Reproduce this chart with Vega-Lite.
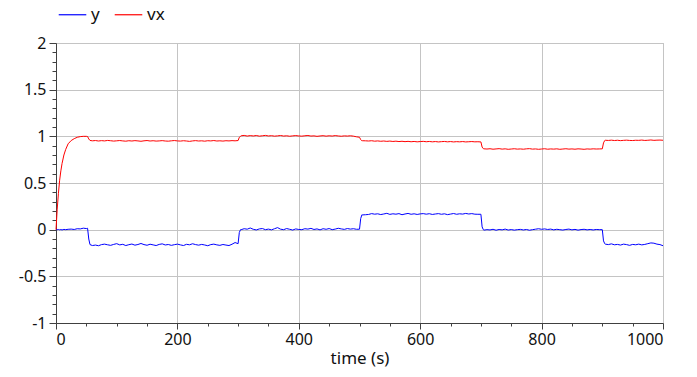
{
  "$schema": "https://vega.github.io/schema/vega-lite/v6.json",
  "autosize": "none",
  "width": 607,
  "height": 280,
  "padding": {"left": 56, "top": 43, "right": 34, "bottom": 54},
  "background": "white",
  "config": {
    "font": "Noto Sans",
    "view": {"stroke": "#b4b4b4", "strokeWidth": 1}
  },
  "data": {"values": [
    {"t":0,"y":0,"vx":0},{"t":2,"y":0.0,"vx":0.22},{"t":4,"y":0.002,"vx":0.39},{"t":6,"y":-0.002,"vx":0.53},{"t":8,"y":0.001,"vx":0.63},{"t":10,"y":-0.003,"vx":0.71},{"t":13,"y":0.003,"vx":0.8},{"t":16,"y":0.0,"vx":0.86},{"t":20,"y":0.004,"vx":0.92},{"t":25,"y":0.006,"vx":0.955},{"t":30,"y":0.002,"vx":0.975},{"t":35,"y":0.01,"vx":0.99},{"t":40,"y":0.008,"vx":0.997},{"t":45,"y":0.016,"vx":1.0},{"t":50,"y":0.012,"vx":1.0},{"t":52,"y":0.015,"vx":0.998},{"t":54,"y":-0.1,"vx":0.972},{"t":56,"y":-0.16,"vx":0.956},
    {"t":60,"y":-0.17,"vx":0.952},{"t":65,"y":-0.165,"vx":0.955},{"t":70,"y":-0.172,"vx":0.95},{"t":75,"y":-0.16,"vx":0.954},{"t":80,"y":-0.155,"vx":0.951},{"t":85,"y":-0.162,"vx":0.956},{"t":90,"y":-0.168,"vx":0.953},{"t":95,"y":-0.158,"vx":0.949},{"t":100,"y":-0.15,"vx":0.952},{"t":105,"y":-0.163,"vx":0.955},{"t":110,"y":-0.157,"vx":0.951},{"t":115,"y":-0.17,"vx":0.948},{"t":120,"y":-0.161,"vx":0.953},{"t":125,"y":-0.154,"vx":0.95},{"t":130,"y":-0.166,"vx":0.954},{"t":135,"y":-0.159,"vx":0.951},{"t":140,"y":-0.148,"vx":0.947},{"t":145,"y":-0.16,"vx":0.952},{"t":150,"y":-0.167,"vx":0.955},{"t":155,"y":-0.156,"vx":0.95},{"t":160,"y":-0.163,"vx":0.953},{"t":165,"y":-0.17,"vx":0.949},{"t":170,"y":-0.158,"vx":0.951},{"t":175,"y":-0.152,"vx":0.954},{"t":180,"y":-0.164,"vx":0.95},{"t":185,"y":-0.159,"vx":0.948},{"t":190,"y":-0.168,"vx":0.952},{"t":195,"y":-0.161,"vx":0.955},{"t":200,"y":-0.155,"vx":0.951},{"t":205,"y":-0.163,"vx":0.949},{"t":210,"y":-0.17,"vx":0.953},{"t":215,"y":-0.157,"vx":0.95},{"t":220,"y":-0.162,"vx":0.946},{"t":225,"y":-0.151,"vx":0.951},{"t":230,"y":-0.16,"vx":0.954},{"t":235,"y":-0.166,"vx":0.95},{"t":240,"y":-0.158,"vx":0.952},{"t":245,"y":-0.164,"vx":0.948},{"t":250,"y":-0.172,"vx":0.953},{"t":255,"y":-0.16,"vx":0.951},{"t":260,"y":-0.155,"vx":0.955},{"t":265,"y":-0.163,"vx":0.95},{"t":270,"y":-0.168,"vx":0.952},{"t":275,"y":-0.159,"vx":0.949},{"t":280,"y":-0.165,"vx":0.953},{"t":285,"y":-0.17,"vx":0.951},{"t":290,"y":-0.156,"vx":0.954},{"t":295,"y":-0.138,"vx":0.952},
    {"t":300,"y":-0.15,"vx":0.955},{"t":302,"y":-0.03,"vx":0.99},{"t":304,"y":0.0,"vx":1.0},
    {"t":305,"y":0.0,"vx":1.006},{"t":310,"y":0.01,"vx":1.01},{"t":315,"y":0.005,"vx":1.003},{"t":320,"y":0.018,"vx":1.008},{"t":325,"y":0.004,"vx":1.004},{"t":330,"y":-0.003,"vx":1.009},{"t":335,"y":0.008,"vx":1.002},{"t":340,"y":0.012,"vx":1.006},{"t":345,"y":0.0,"vx":1.01},{"t":350,"y":0.006,"vx":1.004},{"t":355,"y":-0.002,"vx":1.007},{"t":360,"y":0.01,"vx":1.002},{"t":365,"y":0.022,"vx":1.005},{"t":370,"y":0.005,"vx":1.009},{"t":375,"y":0.0,"vx":1.003},{"t":380,"y":0.012,"vx":1.006},{"t":385,"y":0.004,"vx":1.001},{"t":390,"y":-0.004,"vx":1.005},{"t":395,"y":0.008,"vx":1.008},{"t":400,"y":0.002,"vx":1.004},{"t":405,"y":0.0,"vx":1.002},{"t":410,"y":0.01,"vx":1.006},{"t":415,"y":0.006,"vx":1.009},{"t":420,"y":0.014,"vx":1.003},{"t":425,"y":0.002,"vx":1.005},{"t":430,"y":0.008,"vx":1.0},{"t":435,"y":-0.002,"vx":1.004},{"t":440,"y":0.01,"vx":1.007},{"t":445,"y":0.004,"vx":1.002},{"t":450,"y":0.012,"vx":1.006},{"t":455,"y":0.0,"vx":1.003},{"t":460,"y":0.006,"vx":1.008},{"t":465,"y":0.015,"vx":1.004},{"t":470,"y":0.008,"vx":1.001},{"t":475,"y":0.003,"vx":1.005},{"t":480,"y":0.012,"vx":1.003},{"t":485,"y":0.006,"vx":1.006},{"t":490,"y":0.01,"vx":1.002},{"t":495,"y":0.004,"vx":0.995},
    {"t":500,"y":0.005,"vx":0.99},{"t":502,"y":0.12,"vx":0.965},{"t":504,"y":0.16,"vx":0.952},
    {"t":505,"y":0.158,"vx":0.953},{"t":510,"y":0.16,"vx":0.952},{"t":515,"y":0.163,"vx":0.95},{"t":520,"y":0.172,"vx":0.953},{"t":525,"y":0.166,"vx":0.948},{"t":530,"y":0.17,"vx":0.951},{"t":535,"y":0.162,"vx":0.947},{"t":540,"y":0.168,"vx":0.95},{"t":545,"y":0.175,"vx":0.946},{"t":550,"y":0.164,"vx":0.949},{"t":555,"y":0.17,"vx":0.945},{"t":560,"y":0.166,"vx":0.948},{"t":565,"y":0.172,"vx":0.944},{"t":570,"y":0.16,"vx":0.947},{"t":575,"y":0.168,"vx":0.943},{"t":580,"y":0.174,"vx":0.946},{"t":585,"y":0.165,"vx":0.942},{"t":590,"y":0.17,"vx":0.945},{"t":595,"y":0.163,"vx":0.941},{"t":600,"y":0.169,"vx":0.944},{"t":605,"y":0.172,"vx":0.946},{"t":610,"y":0.166,"vx":0.942},{"t":615,"y":0.171,"vx":0.945},{"t":620,"y":0.163,"vx":0.941},{"t":625,"y":0.168,"vx":0.944},{"t":630,"y":0.172,"vx":0.94},{"t":635,"y":0.165,"vx":0.943},{"t":640,"y":0.17,"vx":0.945},{"t":645,"y":0.161,"vx":0.941},{"t":650,"y":0.167,"vx":0.944},{"t":655,"y":0.173,"vx":0.94},{"t":660,"y":0.165,"vx":0.943},{"t":665,"y":0.17,"vx":0.941},{"t":670,"y":0.167,"vx":0.944},{"t":675,"y":0.174,"vx":0.94},{"t":680,"y":0.168,"vx":0.942},{"t":685,"y":0.172,"vx":0.944},{"t":690,"y":0.166,"vx":0.941},{"t":695,"y":0.165,"vx":0.942},
    {"t":700,"y":0.165,"vx":0.94},{"t":702,"y":0.03,"vx":0.885},{"t":704,"y":0.0,"vx":0.868},
    {"t":705,"y":-0.005,"vx":0.866},{"t":710,"y":0.0,"vx":0.864},{"t":715,"y":-0.003,"vx":0.867},{"t":720,"y":0.004,"vx":0.862},{"t":725,"y":-0.006,"vx":0.865},{"t":730,"y":0.002,"vx":0.868},{"t":735,"y":-0.002,"vx":0.863},{"t":740,"y":0.006,"vx":0.866},{"t":745,"y":-0.004,"vx":0.861},{"t":750,"y":0.001,"vx":0.864},{"t":755,"y":-0.005,"vx":0.867},{"t":760,"y":0.0,"vx":0.863},{"t":765,"y":0.003,"vx":0.865},{"t":770,"y":-0.003,"vx":0.862},{"t":775,"y":0.002,"vx":0.866},{"t":780,"y":-0.006,"vx":0.868},{"t":785,"y":0.0,"vx":0.863},{"t":790,"y":0.005,"vx":0.865},{"t":795,"y":0.01,"vx":0.861},{"t":800,"y":0.004,"vx":0.864},{"t":805,"y":0.008,"vx":0.867},{"t":810,"y":0.002,"vx":0.862},{"t":815,"y":0.006,"vx":0.865},{"t":820,"y":-0.002,"vx":0.863},{"t":825,"y":0.004,"vx":0.866},{"t":830,"y":0.0,"vx":0.861},{"t":835,"y":-0.004,"vx":0.864},{"t":840,"y":0.002,"vx":0.867},{"t":845,"y":0.006,"vx":0.863},{"t":850,"y":-0.002,"vx":0.865},{"t":855,"y":0.003,"vx":0.862},{"t":860,"y":-0.005,"vx":0.866},{"t":865,"y":0.001,"vx":0.864},{"t":870,"y":0.004,"vx":0.861},{"t":875,"y":-0.002,"vx":0.865},{"t":880,"y":0.002,"vx":0.863},{"t":885,"y":-0.003,"vx":0.866},{"t":890,"y":0.002,"vx":0.864},{"t":895,"y":0.0,"vx":0.865},
    {"t":900,"y":0.0,"vx":0.866},{"t":902,"y":-0.12,"vx":0.93},{"t":904,"y":-0.15,"vx":0.955},
    {"t":905,"y":-0.155,"vx":0.958},{"t":910,"y":-0.16,"vx":0.956},{"t":915,"y":-0.152,"vx":0.959},{"t":920,"y":-0.162,"vx":0.955},{"t":925,"y":-0.158,"vx":0.958},{"t":930,"y":-0.165,"vx":0.954},{"t":935,"y":-0.155,"vx":0.957},{"t":940,"y":-0.16,"vx":0.959},{"t":945,"y":-0.168,"vx":0.956},{"t":950,"y":-0.158,"vx":0.955},{"t":955,"y":-0.162,"vx":0.958},{"t":960,"y":-0.155,"vx":0.957},{"t":965,"y":-0.163,"vx":0.96},{"t":970,"y":-0.158,"vx":0.956},{"t":975,"y":-0.15,"vx":0.958},{"t":980,"y":-0.142,"vx":0.961},{"t":985,"y":-0.145,"vx":0.957},{"t":990,"y":-0.155,"vx":0.959},{"t":995,"y":-0.16,"vx":0.96},{"t":1000,"y":-0.172,"vx":0.958}
  ]},
  "transform": [{"fold": ["y", "vx"], "as": ["series", "value"]}],
  "mark": {"type": "line", "strokeWidth": 1, "interpolate": "linear"},
  "encoding": {
    "x": {
      "field": "t", "type": "quantitative",
      "scale": {"domain": [0, 1000], "nice": false, "zero": false},
      "axis": {
        "title": "time (s)",
        "titleFontSize": 17, "titleFontWeight": "normal", "titleColor": "#111", "titlePadding": 3,
        "values": [0,50,100,150,200,250,300,350,400,450,500,550,600,650,700,750,800,850,900,950,1000],
        "labelExpr": "datum.value % 200 === 0 ? toString(datum.value) : ''",
        "labelFontSize": 16, "labelColor": "#111", "labelOverlap": false, "labelPadding": 2,
        "domainColor": "#404040",
        "tickColor": "#404040",
        "tickSize": {"condition": {"test": "datum.value % 200 === 0", "value": 6}, "value": 3},
        "grid": true, "gridColor": "#c4c4c4",
        "gridOpacity": {"condition": {"test": "datum.value % 200 === 0", "value": 1}, "value": 0}
      }
    },
    "y": {
      "field": "value", "type": "quantitative",
      "scale": {"domain": [-1, 2], "nice": false, "zero": false},
      "axis": {
        "title": null,
        "values": [-1,-0.9,-0.8,-0.7,-0.6,-0.5,-0.4,-0.3,-0.2,-0.1,0,0.1,0.2,0.3,0.4,0.5,0.6,0.7,0.8,0.9,1,1.1,1.2,1.3,1.4,1.5,1.6,1.7,1.8,1.9,2],
        "labelExpr": "abs(datum.value*2 - round(datum.value*2)) < 0.001 ? toString(round(datum.value*2)/2) : ''",
        "labelFontSize": 16, "labelColor": "#111", "labelOverlap": false, "labelPadding": 3,
        "domainColor": "#404040",
        "tickColor": "#404040",
        "tickSize": {"condition": {"test": "abs(datum.value*2 - round(datum.value*2)) < 0.001", "value": 7}, "value": 4},
        "grid": true, "gridColor": "#c4c4c4",
        "gridOpacity": {"condition": {"test": "abs(datum.value*2 - round(datum.value*2)) < 0.001", "value": 1}, "value": 0}
      }
    },
    "color": {
      "field": "series", "type": "nominal",
      "scale": {"domain": ["y", "vx"], "range": ["#0000ff", "#ff0000"]},
      "legend": {
        "title": null, "orient": "none", "direction": "horizontal",
        "legendX": 2, "legendY": -43,
        "symbolType": "stroke", "symbolSize": 760, "symbolStrokeWidth": 1.2,
        "labelFontSize": 17, "labelColor": "#111", "labelOffset": 4,
        "columnPadding": 12
      }
    }
  }
}
